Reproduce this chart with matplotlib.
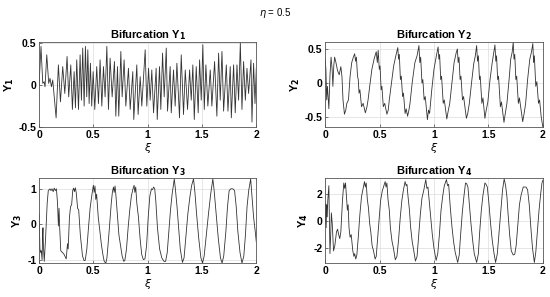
import numpy as np
import matplotlib as mpl
mpl.use('Agg')
import matplotlib.pyplot as plt

plt.rcParams['font.family'] = ['Liberation Sans', 'DejaVu Sans']
plt.rcParams['axes.unicode_minus'] = False

# turning points (xi, Y)
xi1 = [0.000, 0.018, 0.034, 0.046, 0.055, 0.071, 0.089, 0.101, 0.114, 0.126, 0.157, 0.178,
       0.197, 0.218, 0.237, 0.258, 0.273, 0.292, 0.307, 0.323, 0.335, 0.347, 0.363, 0.378,
       0.390, 0.402, 0.415, 0.427, 0.439, 0.449, 0.461, 0.473, 0.485, 0.498, 0.513, 0.531,
       0.547, 0.562, 0.578, 0.593, 0.608, 0.624, 0.639, 0.654, 0.673, 0.694, 0.707, 0.722,
       0.734, 0.753, 0.765, 0.783, 0.799, 0.823, 0.839, 0.863, 0.872, 0.900, 0.912, 0.931,
       0.946, 0.977, 0.992, 1.008, 1.023, 1.038, 1.054, 1.078, 1.088, 1.109, 1.121, 1.137,
       1.152, 1.171, 1.183, 1.207, 1.217, 1.238, 1.253, 1.269, 1.293, 1.309, 1.330, 1.346,
       1.367, 1.386, 1.401, 1.416, 1.429, 1.447, 1.465, 1.478, 1.493, 1.508, 1.521, 1.536,
       1.554, 1.576, 1.591, 1.616, 1.637, 1.653, 1.668, 1.684, 1.699, 1.724, 1.739, 1.760,
       1.770, 1.791, 1.806, 1.822, 1.837, 1.853, 1.868, 1.883, 1.899, 1.914, 1.929, 1.951,
       1.960, 1.975, 1.988, 2.000]
y1 = [0.00, 0.46, 0.02, 0.04, -0.02, 0.36, 0.02, 0.08, -0.02, 0.06, -0.39, 0.24,
      -0.20, 0.22, -0.10, 0.34, -0.14, 0.24, -0.29, 0.16, -0.27, 0.30, -0.29, 0.36,
      -0.18, 0.44, -0.25, 0.46, -0.14, 0.42, -0.22, 0.26, -0.25, 0.16, -0.29, 0.22,
      -0.22, 0.30, -0.25, 0.22, -0.14, 0.46, -0.29, 0.32, -0.14, 0.28, -0.37, 0.22,
      -0.37, 0.40, -0.14, 0.30, -0.25, 0.20, -0.29, 0.16, -0.41, 0.24, -0.35, 0.10,
      -0.25, 0.42, -0.25, 0.20, -0.18, 0.18, -0.33, 0.20, -0.41, 0.22, -0.29, 0.38,
      -0.14, 0.44, -0.31, 0.22, -0.33, 0.18, -0.25, 0.26, -0.39, 0.36, -0.35, 0.18,
      -0.29, 0.18, -0.18, 0.24, -0.41, 0.22, -0.33, 0.30, -0.18, 0.48, -0.29, 0.24,
      -0.25, 0.18, -0.25, 0.28, -0.37, 0.38, -0.18, 0.40, -0.31, 0.24, -0.31, 0.22,
      -0.39, 0.24, -0.33, 0.24, -0.18, 0.50, -0.29, 0.28, -0.18, 0.20, -0.10, 0.30,
      -0.44, 0.26, -0.22, 0.20]

xi2 = [0.000, 0.008, 0.015, 0.022, 0.035, 0.045, 0.055, 0.065, 0.072, 0.080, 0.088, 0.100,
       0.115, 0.130, 0.145, 0.155, 0.165, 0.178, 0.190, 0.200, 0.215, 0.230, 0.245, 0.260,
       0.272, 0.280, 0.288, 0.298, 0.305, 0.312, 0.320, 0.335, 0.350, 0.370, 0.385, 0.395,
       0.410, 0.430, 0.450, 0.470, 0.480, 0.488, 0.498, 0.505, 0.515, 0.522, 0.535, 0.548,
       0.568, 0.580, 0.590, 0.610, 0.630, 0.650, 0.668, 0.675, 0.682, 0.692, 0.700, 0.712,
       0.720, 0.735, 0.745, 0.758, 0.770, 0.780, 0.800, 0.825, 0.845, 0.862, 0.870, 0.878,
       0.890, 0.898, 0.910, 0.920, 0.940, 0.950, 0.960, 0.980, 1.000, 1.020, 1.038, 1.045,
       1.052, 1.062, 1.070, 1.085, 1.095, 1.118, 1.130, 1.145, 1.165, 1.185, 1.205, 1.215,
       1.222, 1.230, 1.240, 1.248, 1.262, 1.272, 1.298, 1.310, 1.325, 1.345, 1.365, 1.380,
       1.392, 1.400, 1.408, 1.418, 1.425, 1.440, 1.450, 1.468, 1.480, 1.495, 1.515, 1.535,
       1.550, 1.560, 1.568, 1.575, 1.585, 1.593, 1.610, 1.620, 1.643, 1.655, 1.670, 1.690,
       1.705, 1.718, 1.728, 1.735, 1.742, 1.752, 1.760, 1.775, 1.785, 1.815, 1.828, 1.842,
       1.860, 1.880, 1.895, 1.908, 1.915, 1.922, 1.935, 1.945, 1.960, 1.970, 1.985, 2.000]
y2 = [0.36, 0.20, -0.25, -0.05, -0.38, 0.10, 0.38, 0.20, -0.05, 0.25, 0.38, 0.30,
      0.18, 0.12, 0.24, 0.10, -0.25, -0.46, -0.40, -0.30, -0.25, 0.10, 0.30, 0.38,
      0.43, 0.32, 0.38, 0.10, 0.05, -0.15, -0.10, -0.35, -0.30, -0.44, -0.35, -0.25,
      -0.05, 0.20, 0.35, 0.46, 0.30, 0.48, 0.20, 0.25, -0.10, -0.05, -0.35, -0.30,
      -0.46, -0.40, -0.25, 0.00, 0.25, 0.40, 0.52, 0.35, 0.42, 0.05, 0.10, -0.20,
      -0.15, -0.45, -0.38, -0.49, -0.40, -0.30, 0.00, 0.30, 0.40, 0.55, 0.30, 0.38,
      0.00, 0.05, -0.25, -0.20, -0.54, -0.40, -0.45, -0.10, 0.20, 0.38, 0.53, 0.35,
      0.42, 0.05, 0.10, -0.30, -0.25, -0.53, -0.42, -0.30, 0.00, 0.30, 0.45, 0.50,
      0.30, 0.38, 0.05, 0.10, -0.25, -0.20, -0.52, -0.45, -0.30, 0.00, 0.28, 0.40,
      0.55, 0.32, 0.40, 0.05, 0.10, -0.30, -0.22, -0.52, -0.40, -0.28, 0.05, 0.30,
      0.45, 0.56, 0.32, 0.40, 0.05, 0.10, -0.35, -0.28, -0.58, -0.45, -0.30, 0.05,
      0.35, 0.45, 0.60, 0.35, 0.42, 0.05, 0.10, -0.30, -0.22, -0.57, -0.45, -0.30,
      0.05, 0.35, 0.45, 0.58, 0.30, 0.40, -0.05, 0.02, -0.30, -0.25, -0.50, -0.65]

xi3 = [0.000, 0.008, 0.015, 0.020, 0.028, 0.033, 0.036, 0.040, 0.048, 0.060, 0.075, 0.085,
       0.100, 0.110, 0.120, 0.130, 0.140, 0.150, 0.160, 0.170, 0.178, 0.184, 0.190, 0.200,
       0.215, 0.230, 0.250, 0.262, 0.268, 0.280, 0.290, 0.300, 0.310, 0.318, 0.326, 0.334,
       0.342, 0.355, 0.365, 0.380, 0.400, 0.415, 0.425, 0.440, 0.455, 0.470, 0.485, 0.500,
       0.508, 0.515, 0.522, 0.530, 0.545, 0.560, 0.575, 0.590, 0.600, 0.615, 0.625, 0.640,
       0.655, 0.665, 0.675, 0.685, 0.692, 0.700, 0.708, 0.720, 0.735, 0.750, 0.765, 0.780,
       0.790, 0.805, 0.820, 0.835, 0.850, 0.865, 0.875, 0.882, 0.890, 0.900, 0.915, 0.930,
       0.945, 0.960, 0.975, 0.990, 1.005, 1.020, 1.035, 1.045, 1.055, 1.065, 1.075, 1.090,
       1.110, 1.130, 1.150, 1.165, 1.180, 1.195, 1.210, 1.225, 1.245, 1.255, 1.270, 1.285,
       1.300, 1.320, 1.335, 1.350, 1.370, 1.390, 1.405, 1.422, 1.435, 1.450, 1.470, 1.490,
       1.505, 1.520, 1.540, 1.560, 1.580, 1.600, 1.612, 1.630, 1.650, 1.670, 1.685, 1.700,
       1.720, 1.735, 1.750, 1.765, 1.785, 1.800, 1.815, 1.830, 1.850, 1.868, 1.885, 1.900,
       1.915, 1.930, 1.948, 1.960, 1.975, 1.990, 2.000]
y3 = [0.30, -0.70, -0.80, -0.75, -1.00, -0.30, -0.10, -0.60, -1.05, -0.40, 0.60, 0.95,
      1.00, 0.95, 1.00, 0.92, 1.02, 0.95, 1.00, 0.60, -0.05, 0.45, -0.10, -0.75,
      -0.80, -0.85, -0.98, -0.55, -0.70, 0.20, 0.50, 0.55, 0.95, 1.02, 0.92, 1.03,
      0.90, 0.45, 0.40, -0.30, -0.90, -1.03, -1.02, -0.70, -0.10, 0.45, 0.80, 1.10,
      0.90, 1.08, 0.70, 0.85, 0.20, -0.20, -0.60, -0.90, -1.05, -1.10, -0.95, -0.40,
      0.20, 0.60, 0.90, 1.05, 0.90, 1.08, 0.80, 0.30, -0.30, -0.60, -0.90, -1.05,
      -1.02, -0.70, -0.10, 0.40, 0.80, 1.00, 1.10, 0.90, 1.05, 0.60, 0.20, -0.40,
      -0.85, -1.00, -0.98, -0.60, 0.20, 0.80, 1.00, 0.98, 1.05, 1.00, 0.65, -0.10,
      -0.70, -0.95, -1.05, -1.05, -0.80, -0.20, 0.40, 0.85, 1.28, 1.00, 0.50, -0.10,
      -0.70, -1.08, -0.95, -0.40, 0.30, 0.80, 1.10, 1.28, 0.90, 0.30, -0.40, -0.95,
      -1.10, -0.90, -0.30, 0.30, 0.85, 1.28, 0.95, 0.30, -0.40, -0.95, -1.10, -0.90,
      -0.20, 0.50, 0.95, 1.00, 1.00, 0.95, 0.50, -0.20, -0.80, -1.10, -0.90, -0.30,
      0.50, 0.95, 1.28, 0.80, 0.20, -0.20, -0.50]

xi4 = [0.000, 0.005, 0.010, 0.015, 0.020, 0.025, 0.035, 0.045, 0.052, 0.058, 0.066, 0.078,
       0.090, 0.105, 0.115, 0.125, 0.135, 0.145, 0.160, 0.172, 0.180, 0.188, 0.195, 0.205,
       0.212, 0.220, 0.230, 0.240, 0.255, 0.265, 0.272, 0.282, 0.292, 0.305, 0.320, 0.335,
       0.350, 0.362, 0.370, 0.378, 0.388, 0.398, 0.410, 0.420, 0.432, 0.445, 0.460, 0.470,
       0.480, 0.495, 0.510, 0.525, 0.540, 0.552, 0.560, 0.568, 0.578, 0.590, 0.600, 0.615,
       0.628, 0.645, 0.660, 0.675, 0.690, 0.705, 0.720, 0.735, 0.745, 0.752, 0.762, 0.775,
       0.785, 0.800, 0.815, 0.830, 0.845, 0.860, 0.875, 0.890, 0.905, 0.925, 0.935, 0.945,
       0.955, 0.970, 0.985, 1.000, 1.020, 1.035, 1.050, 1.065, 1.080, 1.095, 1.115, 1.125,
       1.135, 1.150, 1.165, 1.180, 1.195, 1.218, 1.232, 1.245, 1.260, 1.275, 1.290, 1.300,
       1.312, 1.325, 1.340, 1.355, 1.370, 1.392, 1.408, 1.420, 1.435, 1.450, 1.468, 1.478,
       1.490, 1.505, 1.520, 1.535, 1.550, 1.566, 1.582, 1.598, 1.615, 1.630, 1.645, 1.658,
       1.670, 1.680, 1.695, 1.710, 1.728, 1.742, 1.755, 1.770, 1.785, 1.800, 1.820, 1.845,
       1.860, 1.875, 1.890, 1.905, 1.922, 1.935, 1.950, 1.965, 1.980, 1.992, 2.000]
y4 = [-0.20, 1.30, -0.50, 1.20, 0.30, 1.50, 2.60, -2.40, -1.00, 0.60, -0.20, -2.20,
      -1.80, -0.80, -0.60, -1.00, -1.30, -0.80, 1.50, 2.80, 2.40, 2.80, 2.00, 0.80,
      1.20, -0.50, -1.20, -1.00, -2.20, -2.60, -2.40, -2.80, -2.50, -1.20, 0.50, 1.80,
      2.40, 2.90, 2.50, 2.80, 1.60, 1.00, -0.20, -0.80, -1.80, -2.20, -2.80, -2.60,
      -1.60, 0.00, 1.50, 2.20, 2.60, 2.90, 2.50, 2.80, 1.60, 0.80, -0.50, -1.50,
      -2.00, -2.85, -2.60, -1.40, 0.20, 1.50, 2.30, 2.90, 2.60, 2.70, 1.80, 0.80,
      -0.40, -1.50, -2.20, -2.95, -2.60, -1.00, 0.50, 1.70, 2.20, 3.05, 2.40, 2.50,
      1.60, 0.30, -1.00, -2.00, -2.90, -2.40, -1.00, 0.80, 1.80, 2.60, 3.05, 2.60,
      2.70, 1.00, -0.40, -1.50, -2.30, -3.05, -2.50, -1.00, 0.60, 1.80, 2.80, 2.75,
      2.50, 1.20, -0.20, -1.40, -2.40, -3.05, -2.40, -0.80, 0.80, 1.90, 2.80, 2.70,
      2.50, 1.30, -0.20, -1.40, -2.30, -3.05, -2.40, -0.80, 1.00, 2.30, 3.10, 2.60,
      1.80, 0.60, -1.00, -2.20, -2.50, -2.45, -1.80, -0.30, 1.20, 1.90, 2.50, 2.50,
      2.30, 1.20, -0.50, -2.00, -3.05, -2.30, -0.80, 0.80, 2.00, 2.80, 3.00]

panels = [
    ('1', xi1, y1, (-0.5, 0.51), [-0.5, 0, 0.5]),
    ('2', xi2, y2, (-0.65, 0.6), [-0.5, 0, 0.5]),
    ('3', xi3, y3, (-1.1, 1.3), [-1, 0, 1]),
    ('4', xi4, y4, (-3.1, 3.15), [-2, 0, 2]),
]
xticks = [0, 0.5, 1, 1.5, 2]
xticklabels = ['0', '0.5', '1', '1.5', '2']

fig = plt.figure(figsize=(5.5, 2.97), dpi=100)
pos = [[0.071, 0.572, 0.395, 0.286], [0.591, 0.572, 0.396, 0.286],
       [0.071, 0.114, 0.395, 0.286], [0.591, 0.114, 0.396, 0.286]]

for p, (k, xs, ys, ylim, yt) in zip(pos, panels):
    ax = fig.add_axes(p)
    ax.plot(xs, ys, color='#333333', lw=0.6)
    ax.set_xlim(0, 2)
    ax.set_ylim(*ylim)
    ax.set_xticks(xticks)
    ax.set_xticklabels(xticklabels)
    ax.set_yticks(yt)
    ax.set_yticklabels([('%g' % v) for v in yt])
    ax.grid(True, color='#dcdcdc', lw=0.5)
    ax.tick_params(direction='in', length=2, width=0.5, labelsize=7.5, pad=2, color='#444444')
    for lab in ax.get_xticklabels() + ax.get_yticklabels():
        lab.set_fontweight('bold')
    for s in ax.spines.values():
        s.set_color('#555555')
        s.set_linewidth(0.6)
    ax.set_title('Bifurcation Y$_{\\mathbf{%s}}$' % k, fontsize=8, fontweight='bold', pad=3)
    ax.set_ylabel('Y$_{\\mathbf{%s}}$' % k, fontsize=8, fontweight='bold', labelpad=2)
    ax.set_xlabel(r'$\xi$', fontsize=8, labelpad=1)

fig.text(0.5, 0.955, r'$\eta$ = 0.5', ha='center', va='center', fontsize=7)
fig.savefig('out.png', dpi=100)
